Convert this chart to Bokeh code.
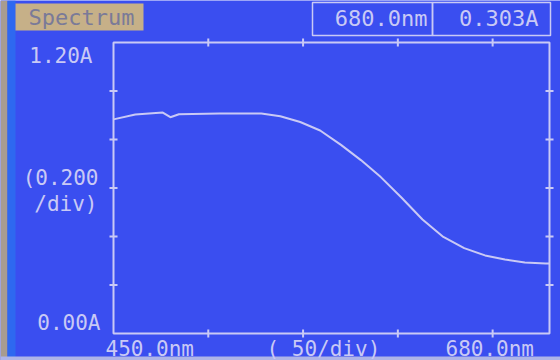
from bokeh.plotting import figure
from bokeh.models import Range1d
from bokeh.core.properties import value
from bokeh.embed import file_html
from bokeh.resources import INLINE

wavelength_nm = [450, 461.5, 476, 480, 484.5, 506, 528, 538, 548.5, 559, 570,
                 580.5, 591, 602, 613, 624, 635, 646, 656.5, 667, 678, 680]
absorbance_A = [0.883, 0.903, 0.911, 0.892, 0.904, 0.907, 0.907, 0.896, 0.872,
                0.837, 0.778, 0.715, 0.645, 0.560, 0.470, 0.398, 0.352, 0.322,
                0.305, 0.293, 0.289, 0.289]
x_ticks = [500, 550, 600, 650]
y_ticks = [0.2, 0.4, 0.6, 0.8, 1.0]
x_start, x_end = 450.0, 680.0
y_start, y_end = 0.0, 1.2

mode_text = "Spectrum"
cursor_wl_text = "680.0nm"
cursor_abs_text = "0.303A"
y_top_text = "1.20A"
y_bottom_text = "0.00A"
y_div_text = ["(0.200", "/div)"]
x_left_text = "450.0nm"
x_div_text = "( 50/div)"
x_right_text = "680.0nm"

# ---- styling ----
BG = "#3a4ef0"
FG = "#c9c9f5"
FONT = "DejaVu Sans Mono"
W, H = 560, 360
L, R, T, B = 113, 549, 42, 333   # pixel box of the graph area


def dx(px):
    return x_start + (px - L) * (x_end - x_start) / (R - L)


def dy(py):
    return y_start + (B - py) * (y_end - y_start) / (B - T)


p = figure(width=W, height=H,
           x_range=Range1d(dx(0), dx(W)), y_range=Range1d(dy(H), dy(0)),
           x_axis_location=None, y_axis_location=None,
           toolbar_location=None, output_backend="svg",
           min_border=0)
p.background_fill_color = BG
p.border_fill_color = BG
p.outline_line_color = None
p.grid.visible = False

# photo edge strips
p.quad(left=dx(0), right=dx(7), bottom=dy(H), top=dy(0),
       fill_color="#a89c90", line_color=None)
p.quad(left=dx(7), right=dx(15), bottom=dy(H), top=dy(0),
       fill_color="#2e68f0", line_color=None)
p.quad(left=dx(0), right=dx(W), bottom=dy(H), top=dy(356),
       fill_color="#aeb4e8", line_color=None)

# graph frame
p.quad(left=x_start, right=x_end, bottom=y_start, top=y_end,
       fill_color=None, line_color=FG, line_width=2)

# tick marks straddling the frame
tx = 4 * (x_end - x_start) / (R - L)
ty = 4 * (y_end - y_start) / (B - T)
for yb in (y_start, y_end):
    p.segment(x0=x_ticks, x1=x_ticks, y0=[yb - ty] * len(x_ticks),
              y1=[yb + ty] * len(x_ticks), line_color=FG, line_width=2)
for xb in (x_start, x_end):
    p.segment(x0=[xb - tx] * len(y_ticks), x1=[xb + tx] * len(y_ticks),
              y0=y_ticks, y1=y_ticks, line_color=FG, line_width=2)

# spectrum curve
p.line(wavelength_nm, absorbance_A, line_color=FG, line_width=2)

# header boxes
p.quad(left=dx(15), right=dx(143), bottom=dy(30), top=dy(3),
       fill_color="#c6b088", line_color=None)
p.quad(left=[dx(312), dx(432)], right=[dx(432), dx(550)],
       bottom=dy(35), top=dy(2), fill_color=None, line_color=FG, line_width=1.5)


def txt(text, px, py, align="left", size="21px", color=FG):
    p.text(x=[dx(px)], y=[dy(py)], text=[text], text_align=align,
           text_baseline="middle", text_font=value(FONT),
           text_font_size=size, text_color=color)


txt(mode_text, 28, 17, size="22px", color="#7a7a98")
txt(cursor_wl_text, 427, 18, align="right", size="22px")
txt(cursor_abs_text, 538, 18, align="right", size="22px")

# y annotations
txt(y_top_text, 92, 55, align="right")
txt(y_div_text[0], 98, 177, align="right")
txt(y_div_text[1], 97, 203, align="right")
txt(y_bottom_text, 100, 322, align="right")

# x annotations
txt(x_left_text, 105, 348)
txt(x_div_text, 266, 348)
txt(x_right_text, 445, 348)

open("out.html", "w").write(file_html(p, INLINE))
